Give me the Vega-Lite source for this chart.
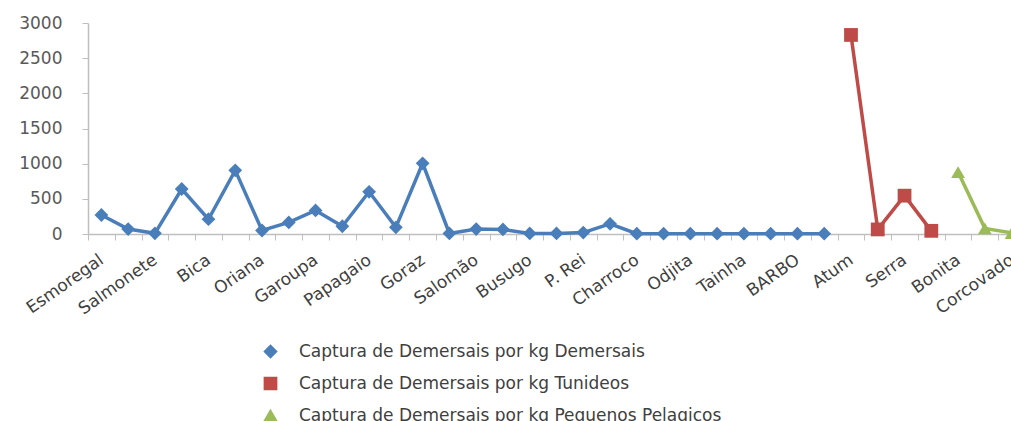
{
  "$schema": "https://vega.github.io/schema/vega-lite/v6.json",
  "autosize": "none",
  "padding": {"left": 88, "top": 23, "right": 0, "bottom": 187},
  "width": 937,
  "height": 211,
  "background": "white",
  "config": {
    "view": {"stroke": null},
    "font": "DejaVu Sans"
  },
  "data": {
    "values": [
      {"especie": "Esmoregal", "grupo": "Captura de Demersais por kg Demersais", "kg": 270},
      {"especie": "Sargo", "grupo": "Captura de Demersais por kg Demersais", "kg": 70},
      {"especie": "Salmonete", "grupo": "Captura de Demersais por kg Demersais", "kg": 10},
      {"especie": "Pargo", "grupo": "Captura de Demersais por kg Demersais", "kg": 640},
      {"especie": "Bica", "grupo": "Captura de Demersais por kg Demersais", "kg": 210},
      {"especie": "Moreia", "grupo": "Captura de Demersais por kg Demersais", "kg": 905},
      {"especie": "Oriana", "grupo": "Captura de Demersais por kg Demersais", "kg": 50},
      {"especie": "Cherne", "grupo": "Captura de Demersais por kg Demersais", "kg": 165},
      {"especie": "Garoupa", "grupo": "Captura de Demersais por kg Demersais", "kg": 335},
      {"especie": "Dobrada", "grupo": "Captura de Demersais por kg Demersais", "kg": 110},
      {"especie": "Papagaio", "grupo": "Captura de Demersais por kg Demersais", "kg": 600},
      {"especie": "Salema", "grupo": "Captura de Demersais por kg Demersais", "kg": 95},
      {"especie": "Goraz", "grupo": "Captura de Demersais por kg Demersais", "kg": 1005},
      {"especie": "Bicuda", "grupo": "Captura de Demersais por kg Demersais", "kg": 8},
      {"especie": "Salomão", "grupo": "Captura de Demersais por kg Demersais", "kg": 70},
      {"especie": "Badejo", "grupo": "Captura de Demersais por kg Demersais", "kg": 65},
      {"especie": "Busugo", "grupo": "Captura de Demersais por kg Demersais", "kg": 8},
      {"especie": "Linguado", "grupo": "Captura de Demersais por kg Demersais", "kg": 8},
      {"especie": "P. Rei", "grupo": "Captura de Demersais por kg Demersais", "kg": 20},
      {"especie": "Lagosta", "grupo": "Captura de Demersais por kg Demersais", "kg": 145},
      {"especie": "Charroco", "grupo": "Captura de Demersais por kg Demersais", "kg": 5},
      {"especie": "Polvo", "grupo": "Captura de Demersais por kg Demersais", "kg": 5},
      {"especie": "Odjita", "grupo": "Captura de Demersais por kg Demersais", "kg": 5},
      {"especie": "Choupa", "grupo": "Captura de Demersais por kg Demersais", "kg": 5},
      {"especie": "Tainha", "grupo": "Captura de Demersais por kg Demersais", "kg": 5},
      {"especie": "Ruivo", "grupo": "Captura de Demersais por kg Demersais", "kg": 5},
      {"especie": "BARBO", "grupo": "Captura de Demersais por kg Demersais", "kg": 5},
      {"especie": "Raia", "grupo": "Captura de Demersais por kg Demersais", "kg": 5},
      {"especie": "Atum", "grupo": "Captura de Demersais por kg Tunideos", "kg": 2830},
      {"especie": "Gaiado", "grupo": "Captura de Demersais por kg Tunideos", "kg": 65},
      {"especie": "Serra", "grupo": "Captura de Demersais por kg Tunideos", "kg": 545},
      {"especie": "Albacora", "grupo": "Captura de Demersais por kg Tunideos", "kg": 45},
      {"especie": "Bonita", "grupo": "Captura de Demersais por kg Pequenos Pelagicos", "kg": 880},
      {"especie": "Chicharro", "grupo": "Captura de Demersais por kg Pequenos Pelagicos", "kg": 80},
      {"especie": "Corcovado", "grupo": "Captura de Demersais por kg Pequenos Pelagicos", "kg": 15}
    ]
  },
  "encoding": {
    "x": {
      "field": "especie",
      "type": "nominal",
      "sort": null,
      "title": null,
      "scale": {"paddingInner": 0, "paddingOuter": 0},
      "axis": {
        "tickBand": "extent",
        "domainColor": "#BFBFBF",
        "tickColor": "#BFBFBF",
        "tickSize": 6,
        "domainWidth": 1.5,
        "labelAngle": -35,
        "labelAlign": "right",
        "labelBaseline": "middle",
        "labelPadding": 18,
        "labelFont": "DejaVu Sans",
        "labelFontSize": 17,
        "labelColor": "#404040",
        "labelLimit": 0,
        "labelOverlap": false,
        "labelExpr": "indexof(['Esmoregal','Salmonete','Bica','Oriana','Garoupa','Papagaio','Goraz','Salomão','Busugo','P. Rei','Charroco','Odjita','Tainha','BARBO','Atum','Serra','Bonita','Corcovado'], datum.value) >= 0 ? datum.label : ''"
      }
    },
    "y": {
      "field": "kg",
      "type": "quantitative",
      "title": null,
      "scale": {"domain": [0, 3000], "nice": false},
      "axis": {
        "values": [0, 500, 1000, 1500, 2000, 2500, 3000],
        "format": "d",
        "grid": false,
        "domainColor": "#BFBFBF",
        "domainWidth": 1.5,
        "tickColor": "#BFBFBF",
        "tickSize": 6,
        "labelPadding": 20,
        "labelFont": "DejaVu Sans",
        "labelFontSize": 17,
        "labelColor": "#595959"
      }
    },
    "color": {
      "field": "grupo",
      "type": "nominal",
      "sort": null,
      "scale": {
        "domain": ["Captura de Demersais por kg Demersais", "Captura de Demersais por kg Tunideos", "Captura de Demersais por kg Pequenos Pelagicos"],
        "range": ["#4A7EBB", "#BE4B48", "#9BBB59"]
      },
      "legend": {
        "title": null,
        "orient": "none",
        "legendX": 174,
        "legendY": 320,
        "direction": "vertical",
        "symbolSize": 150,
        "rowPadding": 13,
        "labelOffset": 20,
        "labelFont": "DejaVu Sans",
        "labelFontSize": 17,
        "labelColor": "#404040",
        "labelLimit": 0
      }
    }
  },
  "layer": [
    {
      "mark": {"type": "line", "strokeWidth": 3.5},
      "encoding": {"detail": {"field": "grupo"}}
    },
    {
      "mark": {"type": "point", "filled": true, "opacity": 1, "size": 190},
      "encoding": {
        "shape": {
          "field": "grupo",
          "type": "nominal",
          "scale": {
            "domain": ["Captura de Demersais por kg Demersais", "Captura de Demersais por kg Tunideos", "Captura de Demersais por kg Pequenos Pelagicos"],
            "range": ["diamond", "square", "triangle-up"]
          },
          "legend": null
        }
      }
    }
  ]
}
